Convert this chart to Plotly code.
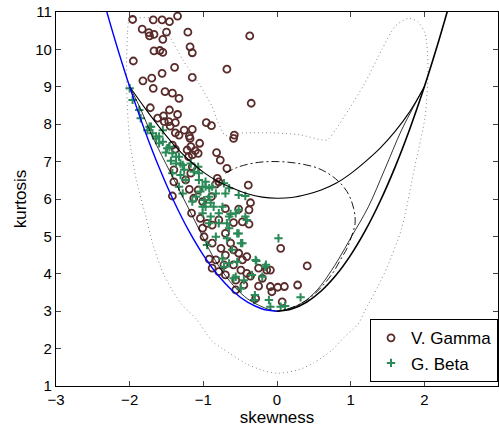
import plotly.graph_objects as go

# ---------------- data (skewness, kurtosis) ----------------
vg_skew = [-1.96,-1.68,-1.56,-1.46,-1.35,-1.83,-1.74,-1.73,-1.67,-1.50,-1.55,-1.21,-0.37,-1.18,-1.15,-1.67,-1.59,-1.55,
           -1.95,-1.39,-0.68,-1.56,-1.15,-1.70,-1.82,-1.68,-1.52,-1.42,-1.33,-0.35,-1.72,-1.46,-1.35,-1.54,-1.62,-1.47,
           -1.38,-1.45,-0.96,-0.89,-1.26,-1.15,-1.33,-1.19,-0.58,-0.59,-1.53,-1.38,-1.18,-1.42,-1.38,-1.05,-1.22,-1.11,
           -1.07,-1.20,-1.15,-0.82,-0.77,-0.68,-1.40,-1.15,-1.17,-1.24,-1.40,-0.81,-0.79,-0.83,-0.39,-1.19,-1.07,-1.42,
           -1.13,-1.01,-0.89,-0.36,-0.52,-0.70,-0.38,-1.16,-1.04,-0.95,-0.88,-0.79,-0.59,-0.47,-0.38,-1.01,-0.99,-0.88,
           -0.76,-0.70,-0.63,-0.59,-0.70,-0.52,-0.41,-0.47,0.05,0.41,-0.83,-0.72,-0.59,-0.79,-0.49,-0.25,-0.14,-0.09,
           -0.70,-0.56,-0.36,-0.20,-0.45,-0.25,-0.09,0.01,0.10,0.28,-0.07,-0.56,-0.29,0.07,-0.88,-0.41,-0.92,-1.17]
vg_kurt = [10.80,10.79,10.79,10.74,10.89,10.54,10.45,10.36,10.40,10.46,10.27,10.46,10.36,10.07,9.91,9.96,9.97,9.92,
           9.69,9.52,9.47,9.36,9.25,9.23,9.16,8.96,8.87,8.83,8.69,8.56,8.44,8.38,8.26,8.22,8.16,8.07,
           8.04,7.95,8.04,7.96,7.84,7.86,7.71,7.68,7.71,7.62,8.07,7.77,7.62,7.44,7.33,7.49,7.31,7.29,
           7.22,7.13,7.18,7.24,7.04,6.82,6.78,6.86,6.69,6.51,6.46,6.55,6.46,6.40,6.37,6.26,6.24,6.08,
           6.02,5.93,6.06,5.90,5.73,5.74,5.71,5.62,5.48,5.35,5.30,5.44,5.37,5.39,5.33,5.22,4.99,4.82,
           4.68,5.08,4.82,4.64,4.50,4.55,4.46,4.37,4.68,4.21,4.37,4.24,4.24,4.06,4.10,4.15,4.10,4.10,
           3.97,3.83,3.94,3.88,3.70,3.67,3.66,3.64,3.66,3.70,3.52,3.57,3.34,3.25,4.15,4.01,4.39,7.40]

gb_skew = [-2.00,-1.96,-1.87,-1.73,-1.64,-1.55,-1.60,-1.42,-1.31,-1.42,-1.24,-1.06,-1.01,-0.88,-1.85,-1.71,-1.69,-1.55,
           -1.49,-1.33,-1.28,-1.13,-1.31,-1.06,-0.97,-0.72,-0.65,-0.92,-1.04,-0.99,-0.90,-0.83,-0.52,-0.43,-1.28,-1.33,
           -1.51,-1.44,-1.64,-1.76,-1.37,-1.17,-1.07,-0.86,-0.74,-1.01,-1.60,-1.46,-1.37,-1.26,-0.97,-1.10,-0.92,-0.97,
           -0.79,-0.65,-0.56,-0.43,-0.52,-0.70,-0.83,-0.68,-0.52,-0.47,-0.29,-0.16,-0.20,-0.56,-0.72,-0.92,0.02,-1.15,
           -0.63,-0.41,-1.01,-0.90,-0.79,-0.65,-0.54,-0.68,-0.49,-0.61,-0.74,-0.54,-0.65,-0.28,-0.15,-0.34,-0.59,-0.49,
           -0.30,-0.31,-0.11,-0.09,0.05,0.11,0.32,-0.45,-0.95]
gb_kurt = [8.96,8.65,8.38,7.93,7.67,7.84,7.49,7.22,6.95,6.69,6.51,6.69,6.33,6.33,8.16,7.93,7.76,7.53,
           7.36,7.13,6.91,6.73,6.64,6.51,6.46,6.42,6.29,6.29,6.20,5.97,5.90,6.15,6.11,6.08,6.15,6.33,
           7.24,7.02,7.62,7.84,6.95,6.95,6.86,5.79,5.79,5.79,7.67,7.40,7.13,6.78,6.33,6.06,6.06,5.79,
           5.62,5.53,5.62,5.53,5.71,6.15,4.99,5.35,5.08,4.82,4.37,4.19,3.92,3.92,4.19,5.35,4.95,5.93,
           5.60,5.44,5.62,5.53,5.35,5.22,5.08,4.95,4.82,4.64,4.41,4.32,4.28,4.34,4.24,3.97,3.88,3.61,
           3.43,3.30,3.30,3.12,3.12,3.14,3.37,3.83,4.77]

# blue curve (negative skew boundary)
blue_skew = [-2.33,-2.2,-2.0,-1.8,-1.6,-1.4,-1.2,-1.0,-0.8,-0.6,-0.4,-0.2,0.0]
blue_kurt = [11.14,10.26,9.0,7.86,6.84,5.94,5.16,4.5,3.96,3.54,3.24,3.06,3.0]
# thick black curve (positive skew boundary)
thick_skew = [0.0,0.2,0.4,0.6,0.8,1.0,1.2,1.4,1.6,1.8,2.0,2.2,2.33]
thick_kurt = [3.0,3.06,3.24,3.54,3.96,4.5,5.16,5.94,6.84,7.86,9.0,10.26,11.14]
# curve through (0,6)
mid_skew = [-2.0,-1.8,-1.6,-1.4,-1.2,-1.0,-0.8,-0.6,-0.4,-0.2,0.0,0.2,0.4,0.6,0.8,1.0,1.2,1.4,1.6,1.8,2.0]
mid_kurt = [9.0,8.45,7.93,7.45,7.05,6.72,6.47,6.29,6.14,6.05,6.02,6.04,6.12,6.24,6.42,6.68,7.0,7.36,7.8,8.33,9.0]
# thin black curves
thinl_skew = [-2.0,-1.85,-1.71,-1.51,-1.28,-1.06,-0.88,-0.72,-0.55,-0.4,-0.25,-0.1,0.0]
thinl_kurt = [9.0,8.4,7.75,6.95,6.06,5.2,4.5,4.0,3.6,3.33,3.16,3.04,3.0]
thinr_skew = [0.0,0.1,0.25,0.4,0.55,0.65,0.83,1.01,1.24,1.46,1.69,1.85,2.0]
thinr_kurt = [3.0,3.03,3.13,3.3,3.58,3.83,4.37,4.99,5.79,6.78,7.84,8.45,9.0]
# dash-dot curve
dd_skew = [-0.70,-0.52,-0.25,0.02,0.29,0.56,0.79,0.95,1.04,1.06,1.01,0.95,0.86,0.77,0.65,0.47,0.29,0.09,0.0]
dd_kurt = [6.69,6.86,6.98,7.0,6.95,6.82,6.55,6.20,5.75,5.35,4.99,4.68,4.37,4.06,3.75,3.39,3.17,3.03,3.0]
# dotted loop
dot_skew = [-2.0,-2.03,-2.04,-2.0,-1.91,-1.78,-1.69,-1.53,-1.30,-1.10,-0.88,-0.74,-0.43,-0.2,0.0,0.29,0.5,0.74,0.92,
            1.1,1.19,1.37,1.5,1.69,1.87,2.01,2.05,2.01,1.91,1.78,1.60,1.42,1.19,0.97,0.79,0.68,0.3,-0.1,-0.5,
            -0.70,-0.80,-0.88,-1.06,-1.28,-1.46,-1.63,-1.73,-1.89,-2.0]
dot_kurt = [10.84,10.43,8.91,7.58,6.51,5.53,4.82,3.95,3.2,2.8,2.2,2.0,1.61,1.42,1.34,1.43,1.62,1.95,2.32,
            2.65,3.0,3.66,4.2,5.2,6.86,8.2,9.54,10.43,10.74,10.83,10.61,9.98,9.09,8.38,7.84,7.58,7.72,7.77,7.76,
            7.70,8.05,8.47,9.09,9.72,10.34,10.65,10.84,10.84,10.84]

x_ticks = [-3, -2, -1, 0, 1, 2, 3]
y_ticks = [1, 2, 3, 4, 5, 6, 7, 8, 9, 10, 11]

# ---------------- figure ----------------
fig = go.Figure()

fig.add_trace(go.Scatter(x=vg_skew, y=vg_kurt, mode="markers", name="V. Gamma",
                         marker=dict(symbol="circle-open", size=7, color="#5a2b2b",
                                     line=dict(width=1.8, color="#5a2b2b"))))
fig.add_trace(go.Scatter(x=gb_skew, y=gb_kurt, mode="markers", name="G. Beta",
                         marker=dict(symbol="cross-thin", size=6, color="#2b8a57",
                                     line=dict(width=2, color="#2b8a57"))))

def curve(xs, ys, color, width, dash="solid", smoothing=1.0):
    fig.add_trace(go.Scatter(x=xs, y=ys, mode="lines", showlegend=False, hoverinfo="skip",
                             line=dict(color=color, width=width, dash=dash, shape="spline",
                                       smoothing=smoothing)))

curve(dot_skew, dot_kurt, "#8a8a8a", 1.0, "1px,3px", 0.7)
curve(dd_skew, dd_kurt, "black", 0.9, "8px,3px,2px,3px")
curve(mid_skew, mid_kurt, "black", 1.1)
curve(thinl_skew, thinl_kurt, "black", 0.8)
curve(thinr_skew, thinr_kurt, "black", 0.8)
curve(blue_skew, blue_kurt, "#0000ff", 1.4)
curve(thick_skew, thick_kurt, "black", 1.6)

font_family = "Liberation Sans, Arial, Helvetica, sans-serif"
fig.update_layout(
    width=499, height=427,
    margin=dict(l=56, r=1, t=12, b=41),
    paper_bgcolor="white", plot_bgcolor="white",
    font=dict(family=font_family, size=16, color="black"),
    showlegend=True,
    legend=dict(x=1, xanchor="right", y=0.01, yanchor="bottom",
                bgcolor="white", bordercolor="black", borderwidth=1,
                font=dict(size=17), tracegroupgap=0),
)
fig.update_xaxes(range=[-3, 3], tickvals=x_ticks, ticks="inside", ticklen=5, tickwidth=1,
                 mirror="ticks", showline=True, linecolor="black", linewidth=1.3,
                 showgrid=False, zeroline=False, tickfont=dict(size=15),
                 title=dict(text="skewness", standoff=0, font=dict(size=17)))
fig.update_yaxes(range=[1, 11], tickvals=y_ticks, ticks="inside", ticklen=5, tickwidth=1,
                 mirror="ticks", showline=True, linecolor="black", linewidth=1.3,
                 showgrid=False, zeroline=False, tickfont=dict(size=15),
                 title=dict(text="kurtosis", standoff=4, font=dict(size=17)))

fig.write_html("out.html")
